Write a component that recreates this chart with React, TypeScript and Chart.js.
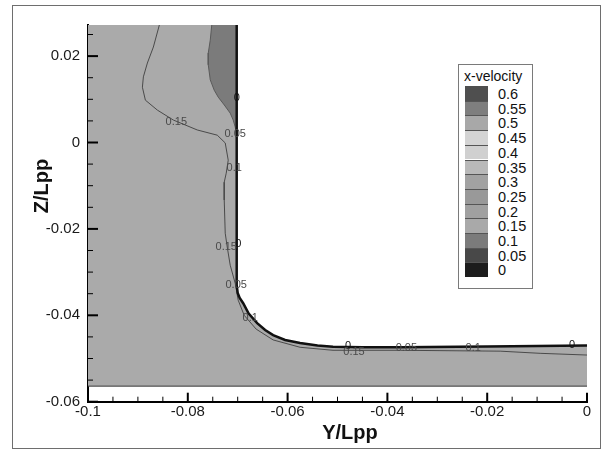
import React, { useEffect, useRef } from 'react';
import { Chart, registerables } from 'chart.js';

Chart.register(...registerables);

const FONT = "'Liberation Sans', Arial, Helvetica, sans-serif";

// Axis ranges and tick values
const xRange = [-0.1, 0];
const yRange = [-0.06, 0.0272];
const xTicks = [-0.1, -0.08, -0.06, -0.04, -0.02, 0];
const yTicks = [-0.06, -0.04, -0.02, 0, 0.02];
const minorStep = 0.005;
const majorStep = 0.02;

// Bottom boundary of the computed domain
const domainBottom = -0.0564;

// Hull (wall) profile
const hullX = [-0.0702, -0.0702, -0.07, -0.0696, -0.0689, -0.0678, -0.0661, -0.0645, -0.0629, -0.0605, -0.0575, -0.054, -0.0509, -0.045, -0.0374, -0.02, 0];
const hullY = [0.0272, -0.033, -0.0348, -0.036, -0.0372, -0.0396, -0.0418, -0.0434, -0.0446, -0.0457, -0.0464, -0.047, -0.0473, -0.0474, -0.0474, -0.0472, -0.047];

// Darker (low-velocity) band near the upper hull
const darkX = [-0.0752, -0.0755, -0.0759, -0.0759, -0.0755, -0.0747, -0.0739, -0.0727, -0.0715, -0.0709, -0.0705, -0.0702];
const darkY = [0.0272, 0.0237, 0.0207, 0.018, 0.0145, 0.0121, 0.0105, 0.0087, 0.0068, 0.0052, 0.0036, 0.0017];

// Contour line 0.15
const c15X = [-0.0857, -0.0869, -0.0881, -0.0889, -0.0891, -0.0885, -0.0861, -0.0829, -0.0781, -0.0741, -0.0725, -0.0719, -0.0723, -0.0727, -0.0727, -0.0725, -0.0721, -0.0715, -0.0705, -0.0699, -0.0687, -0.0663, -0.0629, -0.0575, -0.0509, -0.0374, -0.0174, -0.0094, 0];
const c15Y = [0.0272, 0.0221, 0.0184, 0.0152, 0.0128, 0.0098, 0.0075, 0.0052, 0.0029, 0.0017, -0.0001, -0.0041, -0.0071, -0.0092, -0.0133, -0.021, -0.0242, -0.0284, -0.0326, -0.0365, -0.04, -0.0432, -0.0457, -0.0474, -0.0481, -0.0481, -0.0483, -0.0488, -0.0492];

// Contour labels
const labelText = ['0.15', '0', '0.05', '0.1', '0.15', '0', '0.05', '0.1', '0', '0.15', '0.05', '0.1', '0'];
const labelX = [-0.0823, -0.0702, -0.0705, -0.0707, -0.0723, -0.0699, -0.0703, -0.0675, -0.0479, -0.0467, -0.0362, -0.0228, -0.003];
const labelY = [0.0047, 0.0103, 0.0019, -0.0059, -0.0242, -0.0236, -0.033, -0.0406, -0.0471, -0.0485, -0.0476, -0.0476, -0.0469];

// Legend (colour bar)
const legendTitle = 'x-velocity';
const legendLevels = ['0.6', '0.55', '0.5', '0.45', '0.4', '0.35', '0.3', '0.25', '0.2', '0.15', '0.1', '0.05', '0'];
const legendColors = ['#4f4f4f', '#7e7e7e', '#a8a8a8', '#d4d4d4', '#d0d0d0', '#b9b9b9', '#a2a2a2', '#999999', '#a0a0a0', '#a9a9a9', '#7b7b7b', '#484848', '#1c1c1c'];

const xTitle = 'Y/Lpp';
const yTitle = 'Z/Lpp';

const pts = (xs: number[], ys: number[]) => xs.map((x, i) => ({ x, y: ys[i] }));
const fmt = (v: number) => String(+Number(v).toFixed(3));

const decor = {
  id: 'decor',
  afterDatasetsDraw(chart: any) {
    const { ctx, scales, chartArea } = chart;
    const xs = scales.x;
    const ys = scales.y;
    ctx.save();
    ctx.strokeStyle = '#000';
    // x ticks (inward)
    const nx = Math.round((xRange[1] - xRange[0]) / minorStep);
    for (let i = 0; i <= nx; i++) {
      const v = xRange[0] + i * minorStep;
      const major = Math.abs(v / majorStep - Math.round(v / majorStep)) < 1e-6;
      const px = xs.getPixelForValue(v);
      ctx.lineWidth = major ? 2 : 1;
      ctx.beginPath();
      ctx.moveTo(px, chartArea.bottom);
      ctx.lineTo(px, chartArea.bottom - (major ? 9 : 5));
      ctx.stroke();
    }
    const ny = Math.floor((yRange[1] - yRange[0]) / minorStep + 1e-6);
    for (let i = 0; i <= ny; i++) {
      const v = yRange[0] + i * minorStep;
      const major = Math.abs(v / majorStep - Math.round(v / majorStep)) < 1e-6;
      const py = ys.getPixelForValue(v);
      ctx.lineWidth = major ? 2 : 1;
      ctx.beginPath();
      ctx.moveTo(chartArea.left, py);
      ctx.lineTo(chartArea.left + (major ? 10 : 5), py);
      ctx.stroke();
    }
    // contour labels
    ctx.font = `11px ${FONT}`;
    ctx.textAlign = 'center';
    ctx.textBaseline = 'middle';
    labelText.forEach((t, i) => {
      ctx.fillStyle = t === '0' ? '#111' : '#4a4a4a';
      ctx.fillText(t, xs.getPixelForValue(labelX[i]), ys.getPixelForValue(labelY[i]));
    });
    ctx.restore();
  },
  afterDraw(chart: any) {
    const { ctx } = chart;
    ctx.save();
    ctx.fillStyle = '#111';
    ctx.font = `bold 20px ${FONT}`;
    ctx.textAlign = 'center';
    ctx.textBaseline = 'middle';
    ctx.fillText(xTitle, 350, 433);
    ctx.translate(42, 186);
    ctx.rotate(-Math.PI / 2);
    ctx.fillText(yTitle, 0, 0);
    ctx.restore();
  },
};

export default function App() {
  const ref = useRef<HTMLCanvasElement>(null);
  useEffect(() => {
    document.body.style.margin = '0';
    const domain = [{ x: xRange[0], y: yRange[1] }, ...pts(hullX, hullY), { x: xRange[1], y: domainBottom }, { x: xRange[0], y: domainBottom }];
    const dark = [...pts(darkX, darkY), { x: hullX[0], y: hullY[0] }];
    const chart = new Chart(ref.current as HTMLCanvasElement, {
      type: 'scatter',
      data: {
        datasets: [
          { data: domain, showLine: true, fill: 'shape', backgroundColor: '#aaaaaa', borderWidth: 0, pointRadius: 0, order: 6 } as any,
          { data: [{ x: xRange[0], y: domainBottom }, { x: xRange[1], y: domainBottom }], showLine: true, borderColor: '#3a3a3a', borderWidth: 1, pointRadius: 0, order: 5 },
          { data: dark, showLine: true, fill: 'shape', backgroundColor: '#7b7b7b', borderColor: '#5a5a5a', borderWidth: 1, pointRadius: 0, order: 4 } as any,
          { data: pts(c15X, c15Y), showLine: true, borderColor: '#4a4a4a', borderWidth: 1, pointRadius: 0, order: 3 },
          { data: pts(hullX, hullY), showLine: true, borderColor: '#111', borderWidth: 2.5, pointRadius: 0, order: 1 },
        ],
      },
      options: {
        responsive: false,
        animation: false,
        devicePixelRatio: 1,
        layout: { padding: { left: 0, top: 25, right: 26, bottom: 0 } },
        plugins: { legend: { display: false }, tooltip: { enabled: false } },
        scales: {
          x: {
            type: 'linear',
            min: xRange[0],
            max: xRange[1],
            afterBuildTicks: (s: any) => { s.ticks = xTicks.map((v) => ({ value: v })); },
            afterFit: (s: any) => { s.height = 50.3; },
            grid: { display: false, drawTicks: false },
            border: { display: true, color: '#000', width: 2 },
            ticks: { padding: 1, color: '#1a1a1a', font: { family: FONT, size: 15 }, maxRotation: 0, autoSkip: false, callback: (v: any) => fmt(v) },
          },
          y: {
            type: 'linear',
            min: yRange[0],
            max: yRange[1],
            afterBuildTicks: (s: any) => { s.ticks = yTicks.map((v) => ({ value: v })); },
            afterFit: (s: any) => { s.width = 88; },
            grid: { display: false, drawTicks: false },
            border: { display: true, color: '#000', width: 2 },
            ticks: { padding: 8, color: '#1a1a1a', font: { family: FONT, size: 15 }, autoSkip: false, callback: (v: any) => fmt(v) },
          },
        },
      } as any,
      plugins: [decor],
    });
    return () => chart.destroy();
  }, []);

  return (
    <div style={{ position: 'relative', width: 613, height: 452, background: '#fff', overflow: 'hidden', fontFamily: FONT }}>
      <canvas ref={ref} width={613} height={452} style={{ position: 'absolute', left: 0, top: 0, width: 613, height: 452 }} />
      <div style={{ position: 'absolute', left: 12, top: 5, width: 589, height: 444, border: '1px solid #6e6e6e', boxSizing: 'border-box', pointerEvents: 'none' }} />
      <div style={{ position: 'absolute', left: 458, top: 64, width: 75, height: 225, border: '1px solid #7a7a7a', boxSizing: 'border-box', background: '#fff' }}>
        <div style={{ position: 'absolute', left: 5, top: 3, fontSize: 14, color: '#111', whiteSpace: 'nowrap' }}>{legendTitle}</div>
        {legendLevels.map((lv, i) => (
          <React.Fragment key={lv}>
            <div style={{ position: 'absolute', left: 6, top: 21 + i * 14.7, width: 23, height: 14.7, background: legendColors[i], borderTop: i === 0 ? 'none' : '1px solid #555', boxSizing: 'border-box' }} />
            <div style={{ position: 'absolute', left: 39, top: 21 + i * 14.7 + 1, height: 14.7, lineHeight: '14.7px', fontSize: 14.5, color: '#111' }}>{lv}</div>
          </React.Fragment>
        ))}
      </div>
    </div>
  );
}
